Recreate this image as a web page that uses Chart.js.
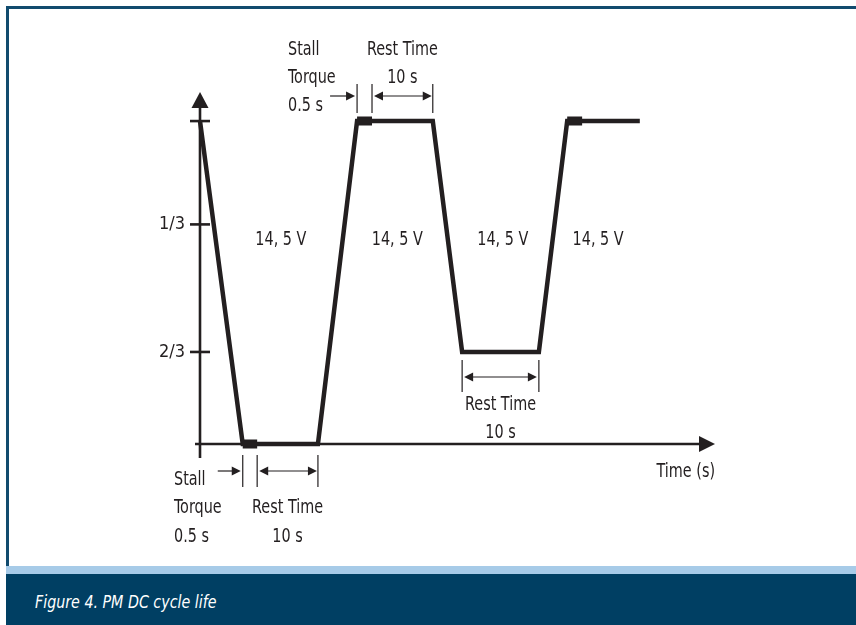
<!DOCTYPE html>
<html>
<head>
<meta charset="utf-8">
<script src="https://cdn.jsdelivr.net/npm/chart.js@4.4.0/dist/chart.umd.min.js"></script>
<style>
body { margin: 0; width: 856px; height: 625px; background: #fff; position: relative; overflow: hidden;
       font-family: "Liberation Sans Narrow", "DejaVu Sans Condensed", sans-serif; }
#frameTop { position: absolute; left: 6px; top: 6px; width: 850px; height: 3px; background: #114b6e; }
#frameLeft { position: absolute; left: 6px; top: 6px; width: 3px; height: 560px; background: #114b6e; }
#bandLight { position: absolute; left: 6px; top: 566px; width: 850px; height: 8px; background: #a7cbe8; }
#bandDark { position: absolute; left: 6px; top: 574px; width: 850px; height: 51px; background: #003f63; }
#caption { position: absolute; left: 35px; top: 591px; color: #fff; font-style: italic; font-size: 18px;
           transform: scaleX(0.88); transform-origin: left center; }
canvas { position: absolute; left: 0; top: 0; }
</style>
</head>
<body>
<div id="frameTop"></div>
<div id="frameLeft"></div>
<canvas id="cycleChart" width="856" height="560"></canvas>
<div id="bandLight"></div>
<div id="bandDark"></div>
<div id="caption">Figure 4. PM DC cycle life</div>
<script>
const FONT = '"Liberation Sans Narrow", "DejaVu Sans Condensed", sans-serif';
const INK = '#231f20';
const NARROW = 0.8; // сжатие текста по ширине

// Время (схематично, не в масштабе)
const timePoints = [0, 8.3, 11.1, 22.9, 30.5, 33.4, 45.2, 50.9, 65.8, 71.3, 74.2, 85.4];
// Уровень: 0 = верх, 1 = низ
const levels = [0, 1, 1, 1, 0, 0, 0, 0.715, 0.715, 0, 0, 0];

// Участки stall torque
const stallStart = [8.3, 30.5, 71.3];
const stallEnd = [11.1, 33.4, 74.2];
const stallLevel = [1, 0, 0];

// Деления оси Y
const yTickValues = [0, 0.32, 0.715];
const yTickLabels = ['', '1/3', '2/3'];

// Подписи напряжения
const voltageText = '14, 5 V';
const voltageAt = [15.7, 38.3, 58.8, 77.3];
const voltageLevel = 0.368;

const lineData = timePoints.map((t, i) => ({ x: t, y: levels[i] }));
const stallData = [];
for (let i = 0; i < stallStart.length; i++) {
    stallData.push({ x: stallStart[i], y: stallLevel[i] });
    stallData.push({ x: stallEnd[i], y: stallLevel[i] });
    stallData.push({ x: stallEnd[i] + 0.1, y: null });
}

function arrowHead(ctx, x, y, dir) {
    ctx.beginPath();
    ctx.moveTo(x, y);
    ctx.lineTo(x - dir * 9, y - 4.5);
    ctx.lineTo(x - dir * 9, y + 4.5);
    ctx.closePath();
    ctx.fill();
}

function hArrow(ctx, x1, x2, y, both) {
    ctx.beginPath();
    ctx.moveTo(x1 + (both ? 4 : 0), y);
    ctx.lineTo(x2 - 4, y);
    ctx.stroke();
    arrowHead(ctx, x2, y, 1);
    if (both) arrowHead(ctx, x1, y, -1);
}

function vLine(ctx, x, y1, y2) {
    ctx.beginPath();
    ctx.moveTo(x, y1);
    ctx.lineTo(x, y2);
    ctx.stroke();
}

function label(ctx, text, x, y, align) {
    ctx.save();
    ctx.translate(x, y);
    ctx.scale(NARROW, 1);
    ctx.textAlign = align || 'center';
    ctx.fillText(text, 0, 0);
    ctx.restore();
}

const axesPlugin = {
    id: 'axesPlugin',
    beforeDatasetsDraw(chart) {
        const { ctx, scales: { x, y } } = chart;
        const ax = x.getPixelForValue(0);
        const ab = y.getPixelForValue(1);
        const top = chart.chartArea.top;
        const right = chart.chartArea.right;
        ctx.save();
        ctx.strokeStyle = INK;
        ctx.fillStyle = INK;
        ctx.lineWidth = 2.6;
        // ось Y
        vLine(ctx, ax, ab + 14, top + 12);
        ctx.beginPath();
        ctx.moveTo(ax, top);
        ctx.lineTo(ax - 8.5, top + 16);
        ctx.lineTo(ax + 8.5, top + 16);
        ctx.closePath();
        ctx.fill();
        // ось X
        ctx.beginPath();
        ctx.moveTo(ax - 5, ab);
        ctx.lineTo(right - 12, ab);
        ctx.stroke();
        ctx.beginPath();
        ctx.moveTo(right, ab);
        ctx.lineTo(right - 16, ab - 8);
        ctx.lineTo(right - 16, ab + 8);
        ctx.closePath();
        ctx.fill();
        // засечки
        yTickValues.forEach(v => {
            const py = y.getPixelForValue(v);
            ctx.beginPath();
            ctx.moveTo(ax - 10, py);
            ctx.lineTo(ax + 10, py);
            ctx.stroke();
        });
        ctx.restore();
    },
    afterDatasetsDraw(chart) {
        const { ctx, scales: { x, y } } = chart;
        const px = v => x.getPixelForValue(v);
        ctx.save();
        ctx.strokeStyle = INK;
        ctx.fillStyle = INK;
        ctx.lineWidth = 1.2;
        ctx.font = '20px ' + FONT;
        ctx.textBaseline = 'middle';

        // напряжение
        voltageAt.forEach(t => label(ctx, voltageText, px(t), y.getPixelForValue(voltageLevel)));

        // подпись оси X
        label(ctx, 'Time (s)', chart.chartArea.right, 472, 'right');

        // верхняя аннотация
        const s1 = px(stallStart[1]), e1 = px(stallEnd[1]), r1 = px(timePoints[6]);
        [s1, e1, r1].forEach(v => vLine(ctx, v, 84, 113));
        hArrow(ctx, s1 - 27, s1 - 2, 96, false);
        hArrow(ctx, e1 + 2, r1 - 1, 96, true);
        label(ctx, 'Stall', 288, 50, 'left');
        label(ctx, 'Torque', 288, 78, 'left');
        label(ctx, '0.5 s', 288, 106, 'left');
        label(ctx, 'Rest Time', (e1 + r1) / 2, 50);
        label(ctx, '10 s', (e1 + r1) / 2, 78);

        // нижняя аннотация
        const s0 = px(stallStart[0]), e0 = px(stallEnd[0]), r0 = px(timePoints[3]);
        [s0, e0, r0].forEach(v => vLine(ctx, v, 455, 487));
        hArrow(ctx, s0 - 25, s0 - 2, 471, false);
        hArrow(ctx, e0 + 2, r0 - 1, 471, true);
        label(ctx, 'Stall', 174, 480, 'left');
        label(ctx, 'Torque', 174, 508, 'left');
        label(ctx, '0.5 s', 174, 537, 'left');
        label(ctx, 'Rest Time', (e0 + r0) / 2, 508);
        label(ctx, '10 s', (e0 + r0) / 2, 537);

        // средняя аннотация
        const m0 = px(timePoints[7]), m1 = px(timePoints[8]);
        [m0, m1].forEach(v => vLine(ctx, v, 360, 392));
        hArrow(ctx, m0 + 2, m1 - 2, 377, true);
        label(ctx, 'Rest Time', (m0 + m1) / 2, 405);
        label(ctx, '10 s', (m0 + m1) / 2, 433);
        ctx.restore();
    }
};

let ctx = document.getElementById('cycleChart').getContext('2d');
let cycleChart = new Chart(ctx, {
    type: 'line',
    data: {
        datasets: [
            {
                data: lineData,
                borderColor: INK,
                borderWidth: 4.5,
                borderJoinStyle: 'miter',
                borderCapStyle: 'butt',
                pointRadius: 0,
                fill: false,
                tension: 0,
                clip: false
            },
            {
                data: stallData,
                borderColor: INK,
                borderWidth: 9,
                borderCapStyle: 'butt',
                pointRadius: 0,
                fill: false,
                spanGaps: false,
                clip: false
            }
        ]
    },
    options: {
        responsive: false,
        animation: false,
        devicePixelRatio: 1,
        layout: { padding: { left: 140, right: 141, top: 92, bottom: 76 } },
        plugins: { legend: { display: false }, tooltip: { enabled: false } },
        scales: {
            x: {
                type: 'linear',
                min: 0,
                max: 100,
                grid: { display: false, drawTicks: false },
                border: { display: false },
                ticks: { display: false },
                afterFit: s => { s.height = 40; }
            },
            y: {
                type: 'linear',
                reverse: true,
                min: -0.09,
                max: 1,
                grid: { display: false, drawTicks: false },
                border: { display: false },
                afterBuildTicks: s => { s.ticks = yTickValues.map(v => ({ value: v })); },
                ticks: {
                    padding: 15,
                    color: INK,
                    font: { family: FONT, size: 18 },
                    callback: (v, i) => yTickLabels[i]
                },
                afterFit: s => { s.width = 60; }
            }
        }
    },
    plugins: [axesPlugin]
});
</script>
</body>
</html>
